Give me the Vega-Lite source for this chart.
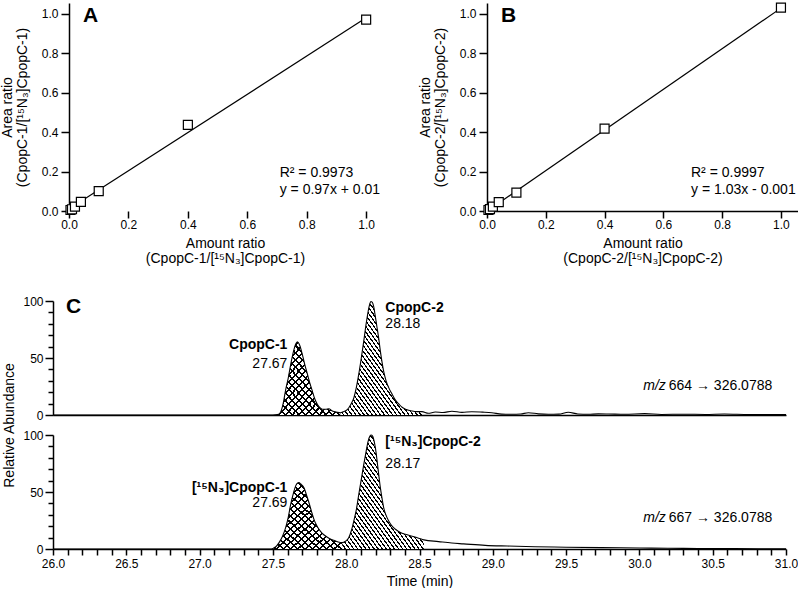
{
"$schema":"https://vega.github.io/schema/vega-lite/v6.json",
"padding":0,
"background":"white",
"config":{
 "view":{"stroke":null},
 "font":"Liberation Sans",
 "axis":{"grid":false,"domainColor":"#000","tickColor":"#000","labelColor":"#000","titleColor":"#000","labelFont":"Liberation Sans","titleFont":"Liberation Sans","titleFontWeight":"normal","labelFontSize":12,"titleFontSize":14,"domainWidth":1.5,"tickWidth":1.5,"labelFlush":false,"labelOverlap":false,"minExtent":0},
 "text":{"font":"Liberation Sans","color":"#000"}
},
"datasets":{
 "calA":[{"amount":0.005,"ratio":0.005},{"amount":0.01,"ratio":0.009},{"amount":0.02,"ratio":0.022},{"amount":0.04,"ratio":0.046},{"amount":0.1,"ratio":0.101},{"amount":0.4,"ratio":0.437},{"amount":1.0,"ratio":0.971}],
 "fitA":[{"amount":0.005,"ratio":0.015},{"amount":1.0,"ratio":0.98}],
 "calB":[{"amount":0.005,"ratio":0.005},{"amount":0.01,"ratio":0.01},{"amount":0.02,"ratio":0.022},{"amount":0.04,"ratio":0.045},{"amount":0.1,"ratio":0.093},{"amount":0.4,"ratio":0.418},{"amount":1.0,"ratio":1.032}],
 "fitB":[{"amount":0.005,"ratio":0.004},{"amount":1.0,"ratio":1.029}],
 "annA":[{"x":0.709,"y":0.193,"text":"R² = 0.9973"},{"x":0.709,"y":0.107,"text":"y = 0.97x + 0.01"}],
 "annB":[{"x":0.694,"y":0.193,"text":"R² = 0.9997"},{"x":0.694,"y":0.107,"text":"y = 1.03x - 0.001"}],
 "letters":[{"panel":"A","x":0.047,"y":0.99,"text":"A"},{"panel":"B","x":0.048,"y":0.99,"text":"B"}],
 "traces":[
  {"trace":"top","t":26.0,"I":0},{"trace":"top","t":27.5,"I":0},{"trace":"top","t":27.53,"I":0.3},{"trace":"top","t":27.55,"I":2},{"trace":"top","t":27.57,"I":10},{"trace":"top","t":27.587,"I":22},{"trace":"top","t":27.604,"I":32},{"trace":"top","t":27.621,"I":44},{"trace":"top","t":27.644,"I":57.5},{"trace":"top","t":27.655,"I":62},{"trace":"top","t":27.667,"I":64.3},{"trace":"top","t":27.68,"I":62},{"trace":"top","t":27.701,"I":53},{"trace":"top","t":27.718,"I":44},{"trace":"top","t":27.735,"I":36},{"trace":"top","t":27.752,"I":28},{"trace":"top","t":27.769,"I":21},{"trace":"top","t":27.786,"I":14},{"trace":"top","t":27.803,"I":9.4},{"trace":"top","t":27.82,"I":6.5},{"trace":"top","t":27.837,"I":5},{"trace":"top","t":27.86,"I":5},{"trace":"top","t":27.882,"I":5.5},{"trace":"top","t":27.9,"I":4},{"trace":"top","t":27.916,"I":3},{"trace":"top","t":27.94,"I":2.3},{"trace":"top","t":27.961,"I":2},{"trace":"top","t":27.98,"I":2.8},{"trace":"top","t":28.0,"I":4},{"trace":"top","t":28.018,"I":6.4},{"trace":"top","t":28.035,"I":10},{"trace":"top","t":28.052,"I":15},{"trace":"top","t":28.069,"I":24},{"trace":"top","t":28.086,"I":36},{"trace":"top","t":28.103,"I":50},{"trace":"top","t":28.12,"I":65},{"trace":"top","t":28.135,"I":79},{"trace":"top","t":28.15,"I":91},{"trace":"top","t":28.16,"I":97},{"trace":"top","t":28.168,"I":99.5},{"trace":"top","t":28.177,"I":99},{"trace":"top","t":28.187,"I":95.6},{"trace":"top","t":28.198,"I":87},{"trace":"top","t":28.21,"I":77},{"trace":"top","t":28.222,"I":67},{"trace":"top","t":28.233,"I":56},{"trace":"top","t":28.245,"I":46},{"trace":"top","t":28.256,"I":38},{"trace":"top","t":28.272,"I":30},{"trace":"top","t":28.29,"I":24},{"trace":"top","t":28.31,"I":19},{"trace":"top","t":28.336,"I":13},{"trace":"top","t":28.36,"I":9.5},{"trace":"top","t":28.381,"I":6.8},{"trace":"top","t":28.41,"I":4.8},{"trace":"top","t":28.449,"I":3.5},{"trace":"top","t":28.48,"I":3},{"trace":"top","t":28.517,"I":3},{"trace":"top","t":28.56,"I":1.5},{"trace":"top","t":28.608,"I":2.6},{"trace":"top","t":28.66,"I":2.2},{"trace":"top","t":28.721,"I":3.3},{"trace":"top","t":28.79,"I":2.3},{"trace":"top","t":28.857,"I":2.9},{"trace":"top","t":28.93,"I":2.5},{"trace":"top","t":28.993,"I":2},{"trace":"top","t":29.06,"I":0.8},{"trace":"top","t":29.129,"I":0.6},{"trace":"top","t":29.19,"I":0.9},{"trace":"top","t":29.243,"I":2},{"trace":"top","t":29.31,"I":1},{"trace":"top","t":29.379,"I":0.6},{"trace":"top","t":29.45,"I":0.8},{"trace":"top","t":29.515,"I":2.4},{"trace":"top","t":29.58,"I":0.9},{"trace":"top","t":29.651,"I":0.6},{"trace":"top","t":29.72,"I":1},{"trace":"top","t":29.787,"I":0.9},{"trace":"top","t":29.9,"I":0.6},{"trace":"top","t":30.036,"I":1.2},{"trace":"top","t":30.15,"I":0.5},{"trace":"top","t":30.306,"I":0.7},{"trace":"top","t":30.45,"I":0.5},{"trace":"top","t":30.58,"I":0.9},{"trace":"top","t":30.75,"I":0.5},{"trace":"top","t":31.0,"I":0.5},
  {"trace":"bottom","t":26.0,"I":0},{"trace":"bottom","t":27.48,"I":0},{"trace":"bottom","t":27.5,"I":0.5},{"trace":"bottom","t":27.52,"I":2},{"trace":"bottom","t":27.542,"I":5.6},{"trace":"bottom","t":27.565,"I":11},{"trace":"bottom","t":27.587,"I":18.7},{"trace":"bottom","t":27.605,"I":28},{"trace":"bottom","t":27.621,"I":39},{"trace":"bottom","t":27.636,"I":47},{"trace":"bottom","t":27.651,"I":53.8},{"trace":"bottom","t":27.665,"I":57.5},{"trace":"bottom","t":27.678,"I":58.2},{"trace":"bottom","t":27.69,"I":57},{"trace":"bottom","t":27.712,"I":53.8},{"trace":"bottom","t":27.73,"I":47},{"trace":"bottom","t":27.746,"I":40.6},{"trace":"bottom","t":27.763,"I":33},{"trace":"bottom","t":27.78,"I":26},{"trace":"bottom","t":27.797,"I":21},{"trace":"bottom","t":27.814,"I":17.3},{"trace":"bottom","t":27.835,"I":14},{"trace":"bottom","t":27.859,"I":11.4},{"trace":"bottom","t":27.885,"I":9.3},{"trace":"bottom","t":27.916,"I":7.6},{"trace":"bottom","t":27.945,"I":6.2},{"trace":"bottom","t":27.973,"I":5.6},{"trace":"bottom","t":27.995,"I":6.8},{"trace":"bottom","t":28.018,"I":10},{"trace":"bottom","t":28.035,"I":16},{"trace":"bottom","t":28.052,"I":24.6},{"trace":"bottom","t":28.07,"I":35},{"trace":"bottom","t":28.086,"I":48},{"trace":"bottom","t":28.103,"I":61},{"trace":"bottom","t":28.12,"I":74.3},{"trace":"bottom","t":28.135,"I":85},{"trace":"bottom","t":28.15,"I":94.7},{"trace":"bottom","t":28.162,"I":99},{"trace":"bottom","t":28.17,"I":100},{"trace":"bottom","t":28.18,"I":99},{"trace":"bottom","t":28.188,"I":96},{"trace":"bottom","t":28.2,"I":88},{"trace":"bottom","t":28.211,"I":77},{"trace":"bottom","t":28.222,"I":65},{"trace":"bottom","t":28.233,"I":53.8},{"trace":"bottom","t":28.245,"I":44},{"trace":"bottom","t":28.256,"I":36},{"trace":"bottom","t":28.272,"I":29.5},{"trace":"bottom","t":28.29,"I":24.6},{"trace":"bottom","t":28.31,"I":20.5},{"trace":"bottom","t":28.336,"I":17.3},{"trace":"bottom","t":28.37,"I":14.5},{"trace":"bottom","t":28.404,"I":12.9},{"trace":"bottom","t":28.45,"I":11.2},{"trace":"bottom","t":28.494,"I":9.5},{"trace":"bottom","t":28.53,"I":8},{"trace":"bottom","t":28.63,"I":6.5},{"trace":"bottom","t":28.72,"I":5.2},{"trace":"bottom","t":28.8,"I":4.5},{"trace":"bottom","t":28.948,"I":3.2},{"trace":"bottom","t":29.1,"I":2.6},{"trace":"bottom","t":29.288,"I":2},{"trace":"bottom","t":29.5,"I":1.6},{"trace":"bottom","t":29.741,"I":1.2},{"trace":"bottom","t":30.0,"I":0.9},{"trace":"bottom","t":30.195,"I":0.6},{"trace":"bottom","t":30.4,"I":0.5},{"trace":"bottom","t":30.65,"I":0.3},{"trace":"bottom","t":31.0,"I":0.2}
 ],
 "labelsC":[
  {"trace":"top","kind":"letter","t":26.088,"I":95,"text":"C"},
  {"trace":"top","kind":"nameL","t":27.599,"I":61,"text":"CpopC-1"},
  {"trace":"top","kind":"rtL","t":27.599,"I":45,"text":"27.67"},
  {"trace":"top","kind":"nameR","t":28.267,"I":94,"text":"CpopC-2"},
  {"trace":"top","kind":"rtR","t":28.267,"I":80,"text":"28.18"},
  {"trace":"top","kind":"mz","t":30.18,"I":25.5,"text":"m/z"},
  {"trace":"top","kind":"tr","t":30.2,"I":25.5,"text":"664 → 326.0788"},
  {"trace":"bottom","kind":"nameL","t":27.599,"I":53.5,"text":"[¹⁵N₃]CpopC-1"},
  {"trace":"bottom","kind":"rtL","t":27.599,"I":40.6,"text":"27.69"},
  {"trace":"bottom","kind":"nameR","t":28.267,"I":93.5,"text":"[¹⁵N₃]CpopC-2"},
  {"trace":"bottom","kind":"rtR","t":28.267,"I":75,"text":"28.17"},
  {"trace":"bottom","kind":"mz","t":30.18,"I":27.5,"text":"m/z"},
  {"trace":"bottom","kind":"tr","t":30.2,"I":27.5,"text":"667 → 326.0788"}
 ]
},
"spacing":30,
"vconcat":[
 {"spacing":37,"hconcat":[
  {"width":328,"height":208,"layer":[
   {"data":{"name":"fitA"},"mark":{"type":"line","color":"#000","strokeWidth":1.2},
    "encoding":{
     "x":{"field":"amount","type":"quantitative","scale":{"domain":[-0.0539,1.05],"nice":false,"zero":false},"axis":{"values":[0,0.2,0.4,0.6,0.8,1],"format":".1f","domain":false,"tickSize":7,"labelPadding":1,"titlePadding":6,"titleLineHeight":15,"titleX":172,"title":["Amount ratio","(CpopC-1/[¹⁵N₃]CpopC-1)"]}},
     "y":{"field":"ratio","type":"quantitative","scale":{"domain":[0,1.055],"nice":false},"axis":{"values":[0,0.2,0.4,0.6,0.8,1],"format":".1f","offset":-16,"tickSize":8,"labelPadding":3,"titlePadding":12,"titleLineHeight":15,"title":["Area ratio","(CpopC-1/[¹⁵N₃]CpopC-1)"]}}}},
   {"mark":{"type":"rule","color":"#000","strokeWidth":1.5},
    "encoding":{"x":{"datum":0,"type":"quantitative"},"x2":{"datum":1.05},"y":{"datum":0,"type":"quantitative"}}},
   {"data":{"name":"calA"},"mark":{"type":"point","shape":"square","size":81,"filled":true,"fill":"#fff","stroke":"#000","strokeWidth":1.2,"opacity":1},
    "encoding":{"x":{"field":"amount","type":"quantitative"},"y":{"field":"ratio","type":"quantitative"}}},
   {"data":{"name":"annA"},"mark":{"type":"text","align":"left","baseline":"middle","fontSize":14},
    "encoding":{"x":{"field":"x","type":"quantitative"},"y":{"field":"y","type":"quantitative"},"text":{"field":"text"}}},
   {"data":{"name":"letters"},"transform":[{"filter":"datum.panel=='A'"}],"mark":{"type":"text","align":"left","baseline":"middle","fontSize":21,"fontWeight":"bold"},
    "encoding":{"x":{"field":"x","type":"quantitative"},"y":{"field":"y","type":"quantitative"},"text":{"field":"text"}}}
  ]},
  {"width":311,"height":208,"layer":[
   {"data":{"name":"fitB"},"mark":{"type":"line","color":"#000","strokeWidth":1.2},
    "encoding":{
     "x":{"field":"amount","type":"quantitative","scale":{"domain":[0,1.058],"nice":false},"axis":{"values":[0,0.2,0.4,0.6,0.8,1],"format":".1f","tickSize":7,"labelPadding":1,"titlePadding":6,"titleLineHeight":15,"title":["Amount ratio","(CpopC-2/[¹⁵N₃]CpopC-2)"]}},
     "y":{"field":"ratio","type":"quantitative","scale":{"domain":[0,1.055],"nice":false},"axis":{"values":[0,0.2,0.4,0.6,0.8,1],"format":".1f","tickSize":8,"labelPadding":3,"titlePadding":12,"titleLineHeight":15,"title":["Area ratio","(CpopC-2/[¹⁵N₃]CpopC-2)"]}}}},
   {"data":{"name":"calB"},"mark":{"type":"point","shape":"square","size":81,"filled":true,"fill":"#fff","stroke":"#000","strokeWidth":1.2,"opacity":1},
    "encoding":{"x":{"field":"amount","type":"quantitative"},"y":{"field":"ratio","type":"quantitative"}}},
   {"data":{"name":"annB"},"mark":{"type":"text","align":"left","baseline":"middle","fontSize":14},
    "encoding":{"x":{"field":"x","type":"quantitative"},"y":{"field":"y","type":"quantitative"},"text":{"field":"text"}}},
   {"data":{"name":"letters"},"transform":[{"filter":"datum.panel=='B'"}],"mark":{"type":"text","align":"left","baseline":"middle","fontSize":21,"fontWeight":"bold"},
    "encoding":{"x":{"field":"x","type":"quantitative"},"y":{"field":"y","type":"quantitative"},"text":{"field":"text"}}}
  ]}
 ]},
 {"spacing":20,"bounds":"flush","vconcat":[
  {"width":733,"height":114,"resolve":{"axis":{"y":"independent"}},"layer":[
   {"data":{"name":"traces"},"transform":[{"filter":"datum.trace=='top' && datum.t>=27.5 && datum.t<=27.961"}],
    "mark":{"type":"area","interpolate":"monotone","fill":{"gradient":"linear","x1":0,"y1":1,"x2":1,"y2":0,"stops":[{"offset":0,"color":"#fff"},{"offset":0.035,"color":"#fff"},{"offset":0.035,"color":"#000"},{"offset":0.05,"color":"#000"},{"offset":0.05,"color":"#fff"},{"offset":0.085,"color":"#fff"},{"offset":0.085,"color":"#000"},{"offset":0.1,"color":"#000"},{"offset":0.1,"color":"#fff"},{"offset":0.135,"color":"#fff"},{"offset":0.135,"color":"#000"},{"offset":0.15,"color":"#000"},{"offset":0.15,"color":"#fff"},{"offset":0.185,"color":"#fff"},{"offset":0.185,"color":"#000"},{"offset":0.2,"color":"#000"},{"offset":0.2,"color":"#fff"},{"offset":0.235,"color":"#fff"},{"offset":0.235,"color":"#000"},{"offset":0.25,"color":"#000"},{"offset":0.25,"color":"#fff"},{"offset":0.285,"color":"#fff"},{"offset":0.285,"color":"#000"},{"offset":0.3,"color":"#000"},{"offset":0.3,"color":"#fff"},{"offset":0.335,"color":"#fff"},{"offset":0.335,"color":"#000"},{"offset":0.35,"color":"#000"},{"offset":0.35,"color":"#fff"},{"offset":0.385,"color":"#fff"},{"offset":0.385,"color":"#000"},{"offset":0.4,"color":"#000"},{"offset":0.4,"color":"#fff"},{"offset":0.435,"color":"#fff"},{"offset":0.435,"color":"#000"},{"offset":0.45,"color":"#000"},{"offset":0.45,"color":"#fff"},{"offset":0.485,"color":"#fff"},{"offset":0.485,"color":"#000"},{"offset":0.5,"color":"#000"},{"offset":0.5,"color":"#fff"},{"offset":0.535,"color":"#fff"},{"offset":0.535,"color":"#000"},{"offset":0.55,"color":"#000"},{"offset":0.55,"color":"#fff"},{"offset":0.585,"color":"#fff"},{"offset":0.585,"color":"#000"},{"offset":0.6,"color":"#000"},{"offset":0.6,"color":"#fff"},{"offset":0.635,"color":"#fff"},{"offset":0.635,"color":"#000"},{"offset":0.65,"color":"#000"},{"offset":0.65,"color":"#fff"},{"offset":0.685,"color":"#fff"},{"offset":0.685,"color":"#000"},{"offset":0.7,"color":"#000"},{"offset":0.7,"color":"#fff"},{"offset":0.735,"color":"#fff"},{"offset":0.735,"color":"#000"},{"offset":0.75,"color":"#000"},{"offset":0.75,"color":"#fff"},{"offset":0.785,"color":"#fff"},{"offset":0.785,"color":"#000"},{"offset":0.8,"color":"#000"},{"offset":0.8,"color":"#fff"},{"offset":0.835,"color":"#fff"},{"offset":0.835,"color":"#000"},{"offset":0.85,"color":"#000"},{"offset":0.85,"color":"#fff"},{"offset":0.885,"color":"#fff"},{"offset":0.885,"color":"#000"},{"offset":0.9,"color":"#000"},{"offset":0.9,"color":"#fff"},{"offset":0.935,"color":"#fff"},{"offset":0.935,"color":"#000"},{"offset":0.95,"color":"#000"},{"offset":0.95,"color":"#fff"},{"offset":0.985,"color":"#fff"},{"offset":0.985,"color":"#000"},{"offset":1,"color":"#000"}]}},
    "encoding":{"x":{"field":"t","type":"quantitative"},"y":{"field":"I","type":"quantitative","stack":null,"axis":{"orient":"left","values":[10,20,30,40,60,70,80,90],"tickSize":5,"labels":false,"domain":false,"title":null}}}},
   {"data":{"name":"traces"},"transform":[{"filter":"datum.trace=='top' && datum.t>=27.5 && datum.t<=27.961"}],
    "mark":{"type":"area","interpolate":"monotone","fill":{"gradient":"linear","x1":0,"y1":0,"x2":1,"y2":1,"stops":[{"offset":0,"color":"rgba(255,255,255,0)"},{"offset":0.035,"color":"rgba(255,255,255,0)"},{"offset":0.035,"color":"#000"},{"offset":0.05,"color":"#000"},{"offset":0.05,"color":"rgba(255,255,255,0)"},{"offset":0.085,"color":"rgba(255,255,255,0)"},{"offset":0.085,"color":"#000"},{"offset":0.1,"color":"#000"},{"offset":0.1,"color":"rgba(255,255,255,0)"},{"offset":0.135,"color":"rgba(255,255,255,0)"},{"offset":0.135,"color":"#000"},{"offset":0.15,"color":"#000"},{"offset":0.15,"color":"rgba(255,255,255,0)"},{"offset":0.185,"color":"rgba(255,255,255,0)"},{"offset":0.185,"color":"#000"},{"offset":0.2,"color":"#000"},{"offset":0.2,"color":"rgba(255,255,255,0)"},{"offset":0.235,"color":"rgba(255,255,255,0)"},{"offset":0.235,"color":"#000"},{"offset":0.25,"color":"#000"},{"offset":0.25,"color":"rgba(255,255,255,0)"},{"offset":0.285,"color":"rgba(255,255,255,0)"},{"offset":0.285,"color":"#000"},{"offset":0.3,"color":"#000"},{"offset":0.3,"color":"rgba(255,255,255,0)"},{"offset":0.335,"color":"rgba(255,255,255,0)"},{"offset":0.335,"color":"#000"},{"offset":0.35,"color":"#000"},{"offset":0.35,"color":"rgba(255,255,255,0)"},{"offset":0.385,"color":"rgba(255,255,255,0)"},{"offset":0.385,"color":"#000"},{"offset":0.4,"color":"#000"},{"offset":0.4,"color":"rgba(255,255,255,0)"},{"offset":0.435,"color":"rgba(255,255,255,0)"},{"offset":0.435,"color":"#000"},{"offset":0.45,"color":"#000"},{"offset":0.45,"color":"rgba(255,255,255,0)"},{"offset":0.485,"color":"rgba(255,255,255,0)"},{"offset":0.485,"color":"#000"},{"offset":0.5,"color":"#000"},{"offset":0.5,"color":"rgba(255,255,255,0)"},{"offset":0.535,"color":"rgba(255,255,255,0)"},{"offset":0.535,"color":"#000"},{"offset":0.55,"color":"#000"},{"offset":0.55,"color":"rgba(255,255,255,0)"},{"offset":0.585,"color":"rgba(255,255,255,0)"},{"offset":0.585,"color":"#000"},{"offset":0.6,"color":"#000"},{"offset":0.6,"color":"rgba(255,255,255,0)"},{"offset":0.635,"color":"rgba(255,255,255,0)"},{"offset":0.635,"color":"#000"},{"offset":0.65,"color":"#000"},{"offset":0.65,"color":"rgba(255,255,255,0)"},{"offset":0.685,"color":"rgba(255,255,255,0)"},{"offset":0.685,"color":"#000"},{"offset":0.7,"color":"#000"},{"offset":0.7,"color":"rgba(255,255,255,0)"},{"offset":0.735,"color":"rgba(255,255,255,0)"},{"offset":0.735,"color":"#000"},{"offset":0.75,"color":"#000"},{"offset":0.75,"color":"rgba(255,255,255,0)"},{"offset":0.785,"color":"rgba(255,255,255,0)"},{"offset":0.785,"color":"#000"},{"offset":0.8,"color":"#000"},{"offset":0.8,"color":"rgba(255,255,255,0)"},{"offset":0.835,"color":"rgba(255,255,255,0)"},{"offset":0.835,"color":"#000"},{"offset":0.85,"color":"#000"},{"offset":0.85,"color":"rgba(255,255,255,0)"},{"offset":0.885,"color":"rgba(255,255,255,0)"},{"offset":0.885,"color":"#000"},{"offset":0.9,"color":"#000"},{"offset":0.9,"color":"rgba(255,255,255,0)"},{"offset":0.935,"color":"rgba(255,255,255,0)"},{"offset":0.935,"color":"#000"},{"offset":0.95,"color":"#000"},{"offset":0.95,"color":"rgba(255,255,255,0)"},{"offset":0.985,"color":"rgba(255,255,255,0)"},{"offset":0.985,"color":"#000"},{"offset":1,"color":"#000"}]}},
    "encoding":{"x":{"field":"t","type":"quantitative"},"y":{"field":"I","type":"quantitative","stack":null,"axis":null}}},
   {"data":{"name":"traces"},"transform":[{"filter":"datum.trace=='top' && datum.t>=27.961 && datum.t<=28.517"}],
    "mark":{"type":"area","interpolate":"monotone","fill":{"gradient":"linear","x1":0,"y1":1,"x2":1,"y2":0,"stops":[{"offset":0,"color":"#fff"},{"offset":0.016,"color":"#fff"},{"offset":0.016,"color":"#000"},{"offset":0.025,"color":"#000"},{"offset":0.025,"color":"#fff"},{"offset":0.041,"color":"#fff"},{"offset":0.041,"color":"#000"},{"offset":0.05,"color":"#000"},{"offset":0.05,"color":"#fff"},{"offset":0.066,"color":"#fff"},{"offset":0.066,"color":"#000"},{"offset":0.075,"color":"#000"},{"offset":0.075,"color":"#fff"},{"offset":0.091,"color":"#fff"},{"offset":0.091,"color":"#000"},{"offset":0.1,"color":"#000"},{"offset":0.1,"color":"#fff"},{"offset":0.116,"color":"#fff"},{"offset":0.116,"color":"#000"},{"offset":0.125,"color":"#000"},{"offset":0.125,"color":"#fff"},{"offset":0.141,"color":"#fff"},{"offset":0.141,"color":"#000"},{"offset":0.15,"color":"#000"},{"offset":0.15,"color":"#fff"},{"offset":0.166,"color":"#fff"},{"offset":0.166,"color":"#000"},{"offset":0.175,"color":"#000"},{"offset":0.175,"color":"#fff"},{"offset":0.191,"color":"#fff"},{"offset":0.191,"color":"#000"},{"offset":0.2,"color":"#000"},{"offset":0.2,"color":"#fff"},{"offset":0.216,"color":"#fff"},{"offset":0.216,"color":"#000"},{"offset":0.225,"color":"#000"},{"offset":0.225,"color":"#fff"},{"offset":0.241,"color":"#fff"},{"offset":0.241,"color":"#000"},{"offset":0.25,"color":"#000"},{"offset":0.25,"color":"#fff"},{"offset":0.266,"color":"#fff"},{"offset":0.266,"color":"#000"},{"offset":0.275,"color":"#000"},{"offset":0.275,"color":"#fff"},{"offset":0.291,"color":"#fff"},{"offset":0.291,"color":"#000"},{"offset":0.3,"color":"#000"},{"offset":0.3,"color":"#fff"},{"offset":0.316,"color":"#fff"},{"offset":0.316,"color":"#000"},{"offset":0.325,"color":"#000"},{"offset":0.325,"color":"#fff"},{"offset":0.341,"color":"#fff"},{"offset":0.341,"color":"#000"},{"offset":0.35,"color":"#000"},{"offset":0.35,"color":"#fff"},{"offset":0.366,"color":"#fff"},{"offset":0.366,"color":"#000"},{"offset":0.375,"color":"#000"},{"offset":0.375,"color":"#fff"},{"offset":0.391,"color":"#fff"},{"offset":0.391,"color":"#000"},{"offset":0.4,"color":"#000"},{"offset":0.4,"color":"#fff"},{"offset":0.416,"color":"#fff"},{"offset":0.416,"color":"#000"},{"offset":0.425,"color":"#000"},{"offset":0.425,"color":"#fff"},{"offset":0.441,"color":"#fff"},{"offset":0.441,"color":"#000"},{"offset":0.45,"color":"#000"},{"offset":0.45,"color":"#fff"},{"offset":0.466,"color":"#fff"},{"offset":0.466,"color":"#000"},{"offset":0.475,"color":"#000"},{"offset":0.475,"color":"#fff"},{"offset":0.491,"color":"#fff"},{"offset":0.491,"color":"#000"},{"offset":0.5,"color":"#000"},{"offset":0.5,"color":"#fff"},{"offset":0.516,"color":"#fff"},{"offset":0.516,"color":"#000"},{"offset":0.525,"color":"#000"},{"offset":0.525,"color":"#fff"},{"offset":0.541,"color":"#fff"},{"offset":0.541,"color":"#000"},{"offset":0.55,"color":"#000"},{"offset":0.55,"color":"#fff"},{"offset":0.566,"color":"#fff"},{"offset":0.566,"color":"#000"},{"offset":0.575,"color":"#000"},{"offset":0.575,"color":"#fff"},{"offset":0.591,"color":"#fff"},{"offset":0.591,"color":"#000"},{"offset":0.6,"color":"#000"},{"offset":0.6,"color":"#fff"},{"offset":0.616,"color":"#fff"},{"offset":0.616,"color":"#000"},{"offset":0.625,"color":"#000"},{"offset":0.625,"color":"#fff"},{"offset":0.641,"color":"#fff"},{"offset":0.641,"color":"#000"},{"offset":0.65,"color":"#000"},{"offset":0.65,"color":"#fff"},{"offset":0.666,"color":"#fff"},{"offset":0.666,"color":"#000"},{"offset":0.675,"color":"#000"},{"offset":0.675,"color":"#fff"},{"offset":0.691,"color":"#fff"},{"offset":0.691,"color":"#000"},{"offset":0.7,"color":"#000"},{"offset":0.7,"color":"#fff"},{"offset":0.716,"color":"#fff"},{"offset":0.716,"color":"#000"},{"offset":0.725,"color":"#000"},{"offset":0.725,"color":"#fff"},{"offset":0.741,"color":"#fff"},{"offset":0.741,"color":"#000"},{"offset":0.75,"color":"#000"},{"offset":0.75,"color":"#fff"},{"offset":0.766,"color":"#fff"},{"offset":0.766,"color":"#000"},{"offset":0.775,"color":"#000"},{"offset":0.775,"color":"#fff"},{"offset":0.791,"color":"#fff"},{"offset":0.791,"color":"#000"},{"offset":0.8,"color":"#000"},{"offset":0.8,"color":"#fff"},{"offset":0.816,"color":"#fff"},{"offset":0.816,"color":"#000"},{"offset":0.825,"color":"#000"},{"offset":0.825,"color":"#fff"},{"offset":0.841,"color":"#fff"},{"offset":0.841,"color":"#000"},{"offset":0.85,"color":"#000"},{"offset":0.85,"color":"#fff"},{"offset":0.866,"color":"#fff"},{"offset":0.866,"color":"#000"},{"offset":0.875,"color":"#000"},{"offset":0.875,"color":"#fff"},{"offset":0.891,"color":"#fff"},{"offset":0.891,"color":"#000"},{"offset":0.9,"color":"#000"},{"offset":0.9,"color":"#fff"},{"offset":0.916,"color":"#fff"},{"offset":0.916,"color":"#000"},{"offset":0.925,"color":"#000"},{"offset":0.925,"color":"#fff"},{"offset":0.941,"color":"#fff"},{"offset":0.941,"color":"#000"},{"offset":0.95,"color":"#000"},{"offset":0.95,"color":"#fff"},{"offset":0.966,"color":"#fff"},{"offset":0.966,"color":"#000"},{"offset":0.975,"color":"#000"},{"offset":0.975,"color":"#fff"},{"offset":0.991,"color":"#fff"},{"offset":0.991,"color":"#000"},{"offset":1,"color":"#000"}]}},
    "encoding":{"x":{"field":"t","type":"quantitative"},"y":{"field":"I","type":"quantitative","stack":null,"axis":null}}},
   {"data":{"name":"traces"},"transform":[{"filter":"datum.trace=='top'"}],"mark":{"type":"line","interpolate":"monotone","color":"#000","strokeWidth":1.1},
    "encoding":{
     "x":{"field":"t","type":"quantitative","scale":{"domain":[26,31],"nice":false},"axis":{"ticks":false,"labels":false,"title":null,"domain":true}},
     "y":{"field":"I","type":"quantitative","scale":{"domain":[0,100],"nice":false},"axis":{"orient":"left","values":[0,50,100],"tickSize":8,"labelPadding":2,"title":"Relative Abundance","titleY":124,"titlePadding":6,"domain":true}}}},
   {"data":{"name":"labelsC"},"transform":[{"filter":"datum.trace=='top' && datum.kind=='letter'"}],"mark":{"type":"text","align":"left","baseline":"middle","fontSize":21,"fontWeight":"bold"},
    "encoding":{"x":{"field":"t","type":"quantitative"},"y":{"field":"I","type":"quantitative","axis":null},"text":{"field":"text"}}},
   {"data":{"name":"labelsC"},"transform":[{"filter":"datum.trace=='top' && datum.kind=='nameL'"}],"mark":{"type":"text","align":"right","baseline":"middle","fontSize":14,"fontWeight":"bold"},
    "encoding":{"x":{"field":"t","type":"quantitative"},"y":{"field":"I","type":"quantitative","axis":null},"text":{"field":"text"}}},
   {"data":{"name":"labelsC"},"transform":[{"filter":"datum.trace=='top' && datum.kind=='rtL'"}],"mark":{"type":"text","align":"right","baseline":"middle","fontSize":14},
    "encoding":{"x":{"field":"t","type":"quantitative"},"y":{"field":"I","type":"quantitative","axis":null},"text":{"field":"text"}}},
   {"data":{"name":"labelsC"},"transform":[{"filter":"datum.trace=='top' && datum.kind=='nameR'"}],"mark":{"type":"text","align":"left","baseline":"middle","fontSize":14,"fontWeight":"bold"},
    "encoding":{"x":{"field":"t","type":"quantitative"},"y":{"field":"I","type":"quantitative","axis":null},"text":{"field":"text"}}},
   {"data":{"name":"labelsC"},"transform":[{"filter":"datum.trace=='top' && datum.kind=='rtR'"}],"mark":{"type":"text","align":"left","baseline":"middle","fontSize":14},
    "encoding":{"x":{"field":"t","type":"quantitative"},"y":{"field":"I","type":"quantitative","axis":null},"text":{"field":"text"}}},
   {"data":{"name":"labelsC"},"transform":[{"filter":"datum.trace=='top' && datum.kind=='mz'"}],"mark":{"type":"text","align":"right","baseline":"middle","fontSize":14,"fontStyle":"italic"},
    "encoding":{"x":{"field":"t","type":"quantitative"},"y":{"field":"I","type":"quantitative","axis":null},"text":{"field":"text"}}},
   {"data":{"name":"labelsC"},"transform":[{"filter":"datum.trace=='top' && datum.kind=='tr'"}],"mark":{"type":"text","align":"left","baseline":"middle","fontSize":14},
    "encoding":{"x":{"field":"t","type":"quantitative"},"y":{"field":"I","type":"quantitative","axis":null},"text":{"field":"text"}}}
  ]},
  {"width":733,"height":114,"resolve":{"axis":{"y":"independent"}},"layer":[
   {"data":{"name":"traces"},"transform":[{"filter":"datum.trace=='bottom' && datum.t>=27.48 && datum.t<=27.973"}],
    "mark":{"type":"area","interpolate":"monotone","fill":{"gradient":"linear","x1":0,"y1":1,"x2":1,"y2":0,"stops":[{"offset":0,"color":"#fff"},{"offset":0.035,"color":"#fff"},{"offset":0.035,"color":"#000"},{"offset":0.05,"color":"#000"},{"offset":0.05,"color":"#fff"},{"offset":0.085,"color":"#fff"},{"offset":0.085,"color":"#000"},{"offset":0.1,"color":"#000"},{"offset":0.1,"color":"#fff"},{"offset":0.135,"color":"#fff"},{"offset":0.135,"color":"#000"},{"offset":0.15,"color":"#000"},{"offset":0.15,"color":"#fff"},{"offset":0.185,"color":"#fff"},{"offset":0.185,"color":"#000"},{"offset":0.2,"color":"#000"},{"offset":0.2,"color":"#fff"},{"offset":0.235,"color":"#fff"},{"offset":0.235,"color":"#000"},{"offset":0.25,"color":"#000"},{"offset":0.25,"color":"#fff"},{"offset":0.285,"color":"#fff"},{"offset":0.285,"color":"#000"},{"offset":0.3,"color":"#000"},{"offset":0.3,"color":"#fff"},{"offset":0.335,"color":"#fff"},{"offset":0.335,"color":"#000"},{"offset":0.35,"color":"#000"},{"offset":0.35,"color":"#fff"},{"offset":0.385,"color":"#fff"},{"offset":0.385,"color":"#000"},{"offset":0.4,"color":"#000"},{"offset":0.4,"color":"#fff"},{"offset":0.435,"color":"#fff"},{"offset":0.435,"color":"#000"},{"offset":0.45,"color":"#000"},{"offset":0.45,"color":"#fff"},{"offset":0.485,"color":"#fff"},{"offset":0.485,"color":"#000"},{"offset":0.5,"color":"#000"},{"offset":0.5,"color":"#fff"},{"offset":0.535,"color":"#fff"},{"offset":0.535,"color":"#000"},{"offset":0.55,"color":"#000"},{"offset":0.55,"color":"#fff"},{"offset":0.585,"color":"#fff"},{"offset":0.585,"color":"#000"},{"offset":0.6,"color":"#000"},{"offset":0.6,"color":"#fff"},{"offset":0.635,"color":"#fff"},{"offset":0.635,"color":"#000"},{"offset":0.65,"color":"#000"},{"offset":0.65,"color":"#fff"},{"offset":0.685,"color":"#fff"},{"offset":0.685,"color":"#000"},{"offset":0.7,"color":"#000"},{"offset":0.7,"color":"#fff"},{"offset":0.735,"color":"#fff"},{"offset":0.735,"color":"#000"},{"offset":0.75,"color":"#000"},{"offset":0.75,"color":"#fff"},{"offset":0.785,"color":"#fff"},{"offset":0.785,"color":"#000"},{"offset":0.8,"color":"#000"},{"offset":0.8,"color":"#fff"},{"offset":0.835,"color":"#fff"},{"offset":0.835,"color":"#000"},{"offset":0.85,"color":"#000"},{"offset":0.85,"color":"#fff"},{"offset":0.885,"color":"#fff"},{"offset":0.885,"color":"#000"},{"offset":0.9,"color":"#000"},{"offset":0.9,"color":"#fff"},{"offset":0.935,"color":"#fff"},{"offset":0.935,"color":"#000"},{"offset":0.95,"color":"#000"},{"offset":0.95,"color":"#fff"},{"offset":0.985,"color":"#fff"},{"offset":0.985,"color":"#000"},{"offset":1,"color":"#000"}]}},
    "encoding":{"x":{"field":"t","type":"quantitative"},"y":{"field":"I","type":"quantitative","stack":null,"axis":{"orient":"left","values":[10,20,30,40,60,70,80,90],"tickSize":5,"labels":false,"domain":false,"title":null}}}},
   {"data":{"name":"traces"},"transform":[{"filter":"datum.trace=='bottom' && datum.t>=27.48 && datum.t<=27.973"}],
    "mark":{"type":"area","interpolate":"monotone","fill":{"gradient":"linear","x1":0,"y1":0,"x2":1,"y2":1,"stops":[{"offset":0,"color":"rgba(255,255,255,0)"},{"offset":0.035,"color":"rgba(255,255,255,0)"},{"offset":0.035,"color":"#000"},{"offset":0.05,"color":"#000"},{"offset":0.05,"color":"rgba(255,255,255,0)"},{"offset":0.085,"color":"rgba(255,255,255,0)"},{"offset":0.085,"color":"#000"},{"offset":0.1,"color":"#000"},{"offset":0.1,"color":"rgba(255,255,255,0)"},{"offset":0.135,"color":"rgba(255,255,255,0)"},{"offset":0.135,"color":"#000"},{"offset":0.15,"color":"#000"},{"offset":0.15,"color":"rgba(255,255,255,0)"},{"offset":0.185,"color":"rgba(255,255,255,0)"},{"offset":0.185,"color":"#000"},{"offset":0.2,"color":"#000"},{"offset":0.2,"color":"rgba(255,255,255,0)"},{"offset":0.235,"color":"rgba(255,255,255,0)"},{"offset":0.235,"color":"#000"},{"offset":0.25,"color":"#000"},{"offset":0.25,"color":"rgba(255,255,255,0)"},{"offset":0.285,"color":"rgba(255,255,255,0)"},{"offset":0.285,"color":"#000"},{"offset":0.3,"color":"#000"},{"offset":0.3,"color":"rgba(255,255,255,0)"},{"offset":0.335,"color":"rgba(255,255,255,0)"},{"offset":0.335,"color":"#000"},{"offset":0.35,"color":"#000"},{"offset":0.35,"color":"rgba(255,255,255,0)"},{"offset":0.385,"color":"rgba(255,255,255,0)"},{"offset":0.385,"color":"#000"},{"offset":0.4,"color":"#000"},{"offset":0.4,"color":"rgba(255,255,255,0)"},{"offset":0.435,"color":"rgba(255,255,255,0)"},{"offset":0.435,"color":"#000"},{"offset":0.45,"color":"#000"},{"offset":0.45,"color":"rgba(255,255,255,0)"},{"offset":0.485,"color":"rgba(255,255,255,0)"},{"offset":0.485,"color":"#000"},{"offset":0.5,"color":"#000"},{"offset":0.5,"color":"rgba(255,255,255,0)"},{"offset":0.535,"color":"rgba(255,255,255,0)"},{"offset":0.535,"color":"#000"},{"offset":0.55,"color":"#000"},{"offset":0.55,"color":"rgba(255,255,255,0)"},{"offset":0.585,"color":"rgba(255,255,255,0)"},{"offset":0.585,"color":"#000"},{"offset":0.6,"color":"#000"},{"offset":0.6,"color":"rgba(255,255,255,0)"},{"offset":0.635,"color":"rgba(255,255,255,0)"},{"offset":0.635,"color":"#000"},{"offset":0.65,"color":"#000"},{"offset":0.65,"color":"rgba(255,255,255,0)"},{"offset":0.685,"color":"rgba(255,255,255,0)"},{"offset":0.685,"color":"#000"},{"offset":0.7,"color":"#000"},{"offset":0.7,"color":"rgba(255,255,255,0)"},{"offset":0.735,"color":"rgba(255,255,255,0)"},{"offset":0.735,"color":"#000"},{"offset":0.75,"color":"#000"},{"offset":0.75,"color":"rgba(255,255,255,0)"},{"offset":0.785,"color":"rgba(255,255,255,0)"},{"offset":0.785,"color":"#000"},{"offset":0.8,"color":"#000"},{"offset":0.8,"color":"rgba(255,255,255,0)"},{"offset":0.835,"color":"rgba(255,255,255,0)"},{"offset":0.835,"color":"#000"},{"offset":0.85,"color":"#000"},{"offset":0.85,"color":"rgba(255,255,255,0)"},{"offset":0.885,"color":"rgba(255,255,255,0)"},{"offset":0.885,"color":"#000"},{"offset":0.9,"color":"#000"},{"offset":0.9,"color":"rgba(255,255,255,0)"},{"offset":0.935,"color":"rgba(255,255,255,0)"},{"offset":0.935,"color":"#000"},{"offset":0.95,"color":"#000"},{"offset":0.95,"color":"rgba(255,255,255,0)"},{"offset":0.985,"color":"rgba(255,255,255,0)"},{"offset":0.985,"color":"#000"},{"offset":1,"color":"#000"}]}},
    "encoding":{"x":{"field":"t","type":"quantitative"},"y":{"field":"I","type":"quantitative","stack":null,"axis":null}}},
   {"data":{"name":"traces"},"transform":[{"filter":"datum.trace=='bottom' && datum.t>=27.973 && datum.t<=28.53"}],
    "mark":{"type":"area","interpolate":"monotone","fill":{"gradient":"linear","x1":0,"y1":1,"x2":1,"y2":0,"stops":[{"offset":0,"color":"#fff"},{"offset":0.016,"color":"#fff"},{"offset":0.016,"color":"#000"},{"offset":0.025,"color":"#000"},{"offset":0.025,"color":"#fff"},{"offset":0.041,"color":"#fff"},{"offset":0.041,"color":"#000"},{"offset":0.05,"color":"#000"},{"offset":0.05,"color":"#fff"},{"offset":0.066,"color":"#fff"},{"offset":0.066,"color":"#000"},{"offset":0.075,"color":"#000"},{"offset":0.075,"color":"#fff"},{"offset":0.091,"color":"#fff"},{"offset":0.091,"color":"#000"},{"offset":0.1,"color":"#000"},{"offset":0.1,"color":"#fff"},{"offset":0.116,"color":"#fff"},{"offset":0.116,"color":"#000"},{"offset":0.125,"color":"#000"},{"offset":0.125,"color":"#fff"},{"offset":0.141,"color":"#fff"},{"offset":0.141,"color":"#000"},{"offset":0.15,"color":"#000"},{"offset":0.15,"color":"#fff"},{"offset":0.166,"color":"#fff"},{"offset":0.166,"color":"#000"},{"offset":0.175,"color":"#000"},{"offset":0.175,"color":"#fff"},{"offset":0.191,"color":"#fff"},{"offset":0.191,"color":"#000"},{"offset":0.2,"color":"#000"},{"offset":0.2,"color":"#fff"},{"offset":0.216,"color":"#fff"},{"offset":0.216,"color":"#000"},{"offset":0.225,"color":"#000"},{"offset":0.225,"color":"#fff"},{"offset":0.241,"color":"#fff"},{"offset":0.241,"color":"#000"},{"offset":0.25,"color":"#000"},{"offset":0.25,"color":"#fff"},{"offset":0.266,"color":"#fff"},{"offset":0.266,"color":"#000"},{"offset":0.275,"color":"#000"},{"offset":0.275,"color":"#fff"},{"offset":0.291,"color":"#fff"},{"offset":0.291,"color":"#000"},{"offset":0.3,"color":"#000"},{"offset":0.3,"color":"#fff"},{"offset":0.316,"color":"#fff"},{"offset":0.316,"color":"#000"},{"offset":0.325,"color":"#000"},{"offset":0.325,"color":"#fff"},{"offset":0.341,"color":"#fff"},{"offset":0.341,"color":"#000"},{"offset":0.35,"color":"#000"},{"offset":0.35,"color":"#fff"},{"offset":0.366,"color":"#fff"},{"offset":0.366,"color":"#000"},{"offset":0.375,"color":"#000"},{"offset":0.375,"color":"#fff"},{"offset":0.391,"color":"#fff"},{"offset":0.391,"color":"#000"},{"offset":0.4,"color":"#000"},{"offset":0.4,"color":"#fff"},{"offset":0.416,"color":"#fff"},{"offset":0.416,"color":"#000"},{"offset":0.425,"color":"#000"},{"offset":0.425,"color":"#fff"},{"offset":0.441,"color":"#fff"},{"offset":0.441,"color":"#000"},{"offset":0.45,"color":"#000"},{"offset":0.45,"color":"#fff"},{"offset":0.466,"color":"#fff"},{"offset":0.466,"color":"#000"},{"offset":0.475,"color":"#000"},{"offset":0.475,"color":"#fff"},{"offset":0.491,"color":"#fff"},{"offset":0.491,"color":"#000"},{"offset":0.5,"color":"#000"},{"offset":0.5,"color":"#fff"},{"offset":0.516,"color":"#fff"},{"offset":0.516,"color":"#000"},{"offset":0.525,"color":"#000"},{"offset":0.525,"color":"#fff"},{"offset":0.541,"color":"#fff"},{"offset":0.541,"color":"#000"},{"offset":0.55,"color":"#000"},{"offset":0.55,"color":"#fff"},{"offset":0.566,"color":"#fff"},{"offset":0.566,"color":"#000"},{"offset":0.575,"color":"#000"},{"offset":0.575,"color":"#fff"},{"offset":0.591,"color":"#fff"},{"offset":0.591,"color":"#000"},{"offset":0.6,"color":"#000"},{"offset":0.6,"color":"#fff"},{"offset":0.616,"color":"#fff"},{"offset":0.616,"color":"#000"},{"offset":0.625,"color":"#000"},{"offset":0.625,"color":"#fff"},{"offset":0.641,"color":"#fff"},{"offset":0.641,"color":"#000"},{"offset":0.65,"color":"#000"},{"offset":0.65,"color":"#fff"},{"offset":0.666,"color":"#fff"},{"offset":0.666,"color":"#000"},{"offset":0.675,"color":"#000"},{"offset":0.675,"color":"#fff"},{"offset":0.691,"color":"#fff"},{"offset":0.691,"color":"#000"},{"offset":0.7,"color":"#000"},{"offset":0.7,"color":"#fff"},{"offset":0.716,"color":"#fff"},{"offset":0.716,"color":"#000"},{"offset":0.725,"color":"#000"},{"offset":0.725,"color":"#fff"},{"offset":0.741,"color":"#fff"},{"offset":0.741,"color":"#000"},{"offset":0.75,"color":"#000"},{"offset":0.75,"color":"#fff"},{"offset":0.766,"color":"#fff"},{"offset":0.766,"color":"#000"},{"offset":0.775,"color":"#000"},{"offset":0.775,"color":"#fff"},{"offset":0.791,"color":"#fff"},{"offset":0.791,"color":"#000"},{"offset":0.8,"color":"#000"},{"offset":0.8,"color":"#fff"},{"offset":0.816,"color":"#fff"},{"offset":0.816,"color":"#000"},{"offset":0.825,"color":"#000"},{"offset":0.825,"color":"#fff"},{"offset":0.841,"color":"#fff"},{"offset":0.841,"color":"#000"},{"offset":0.85,"color":"#000"},{"offset":0.85,"color":"#fff"},{"offset":0.866,"color":"#fff"},{"offset":0.866,"color":"#000"},{"offset":0.875,"color":"#000"},{"offset":0.875,"color":"#fff"},{"offset":0.891,"color":"#fff"},{"offset":0.891,"color":"#000"},{"offset":0.9,"color":"#000"},{"offset":0.9,"color":"#fff"},{"offset":0.916,"color":"#fff"},{"offset":0.916,"color":"#000"},{"offset":0.925,"color":"#000"},{"offset":0.925,"color":"#fff"},{"offset":0.941,"color":"#fff"},{"offset":0.941,"color":"#000"},{"offset":0.95,"color":"#000"},{"offset":0.95,"color":"#fff"},{"offset":0.966,"color":"#fff"},{"offset":0.966,"color":"#000"},{"offset":0.975,"color":"#000"},{"offset":0.975,"color":"#fff"},{"offset":0.991,"color":"#fff"},{"offset":0.991,"color":"#000"},{"offset":1,"color":"#000"}]}},
    "encoding":{"x":{"field":"t","type":"quantitative"},"y":{"field":"I","type":"quantitative","stack":null,"axis":null}}},
   {"data":{"name":"traces"},"transform":[{"filter":"datum.trace=='bottom'"}],"mark":{"type":"line","interpolate":"monotone","color":"#000","strokeWidth":1.1},
    "encoding":{
     "x":{"field":"t","type":"quantitative","scale":{"domain":[26,31],"nice":false},"axis":{"tickCount":50,"tickSize":6,"labelPadding":3,"labelExpr":"round(datum.value*10)%5==0 ? format(datum.value,'.1f') : ''","title":"Time (min)","titlePadding":5}},
     "y":{"field":"I","type":"quantitative","scale":{"domain":[0,100],"nice":false},"axis":{"orient":"left","values":[0,50,100],"tickSize":8,"labelPadding":2,"title":null,"domain":true}}}},
   {"data":{"name":"labelsC"},"transform":[{"filter":"datum.trace=='bottom' && datum.kind=='nameL'"}],"mark":{"type":"text","align":"right","baseline":"middle","fontSize":14,"fontWeight":"bold"},
    "encoding":{"x":{"field":"t","type":"quantitative"},"y":{"field":"I","type":"quantitative","axis":null},"text":{"field":"text"}}},
   {"data":{"name":"labelsC"},"transform":[{"filter":"datum.trace=='bottom' && datum.kind=='rtL'"}],"mark":{"type":"text","align":"right","baseline":"middle","fontSize":14},
    "encoding":{"x":{"field":"t","type":"quantitative"},"y":{"field":"I","type":"quantitative","axis":null},"text":{"field":"text"}}},
   {"data":{"name":"labelsC"},"transform":[{"filter":"datum.trace=='bottom' && datum.kind=='nameR'"}],"mark":{"type":"text","align":"left","baseline":"middle","fontSize":14,"fontWeight":"bold"},
    "encoding":{"x":{"field":"t","type":"quantitative"},"y":{"field":"I","type":"quantitative","axis":null},"text":{"field":"text"}}},
   {"data":{"name":"labelsC"},"transform":[{"filter":"datum.trace=='bottom' && datum.kind=='rtR'"}],"mark":{"type":"text","align":"left","baseline":"middle","fontSize":14},
    "encoding":{"x":{"field":"t","type":"quantitative"},"y":{"field":"I","type":"quantitative","axis":null},"text":{"field":"text"}}},
   {"data":{"name":"labelsC"},"transform":[{"filter":"datum.trace=='bottom' && datum.kind=='mz'"}],"mark":{"type":"text","align":"right","baseline":"middle","fontSize":14,"fontStyle":"italic"},
    "encoding":{"x":{"field":"t","type":"quantitative"},"y":{"field":"I","type":"quantitative","axis":null},"text":{"field":"text"}}},
   {"data":{"name":"labelsC"},"transform":[{"filter":"datum.trace=='bottom' && datum.kind=='tr'"}],"mark":{"type":"text","align":"left","baseline":"middle","fontSize":14},
    "encoding":{"x":{"field":"t","type":"quantitative"},"y":{"field":"I","type":"quantitative","axis":null},"text":{"field":"text"}}}
  ]}
 ]}
]
}
